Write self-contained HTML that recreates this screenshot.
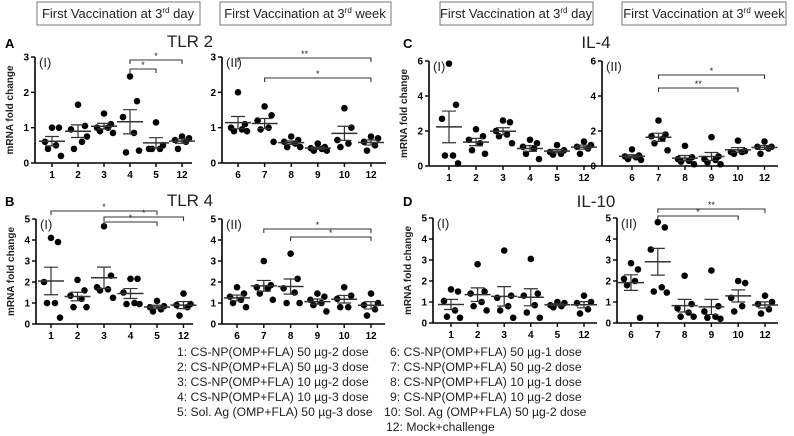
<!DOCTYPE html>
<html><head><meta charset="utf-8">
<style>
body{margin:0;background:#fff;}
svg{display:block;font-family:"Liberation Sans",Arial,sans-serif;}
</style></head>
<body>
<svg id="fig" width="794" height="436" viewBox="0 0 794 436" xmlns="http://www.w3.org/2000/svg">
<g font-size="13" fill="#222">
<rect x="37" y="2" width="163" height="23" fill="none" stroke="#777"/>
<text x="118" y="18" text-anchor="middle">First Vaccination at 3<tspan font-size="8" dy="-5">rd</tspan><tspan dy="5"> day</tspan></text>
<rect x="220" y="2" width="171" height="23" fill="none" stroke="#777"/>
<text x="305" y="18" text-anchor="middle">First Vaccination at 3<tspan font-size="8" dy="-5">rd</tspan><tspan dy="5"> week</tspan></text>
<rect x="440" y="2" width="153" height="23" fill="none" stroke="#777"/>
<text x="516" y="18" text-anchor="middle">First Vaccination at 3<tspan font-size="8" dy="-5">rd</tspan><tspan dy="5"> day</tspan></text>
<rect x="622" y="2" width="164" height="23" fill="none" stroke="#777"/>
<text x="704" y="18" text-anchor="middle">First Vaccination at 3<tspan font-size="8" dy="-5">rd</tspan><tspan dy="5"> week</tspan></text>
</g>
<g font-weight="bold" font-size="13" fill="#000">
<text x="5" y="48">A</text>
<text x="5" y="206">B</text>
<text x="403" y="48">C</text>
<text x="403" y="206">D</text>
</g>
<g font-size="17" fill="#222">
<text x="190" y="47" text-anchor="middle">TLR 2</text>
<text x="190" y="206" text-anchor="middle">TLR 4</text>
<text x="596" y="48" text-anchor="middle">IL-4</text>
<text x="596" y="207" text-anchor="middle">IL-10</text>
</g>
<g font-size="12.2" fill="#222">
<text x="177" y="356">1: CS-NP(OMP+FLA) 50 µg-2 dose</text>
<text x="177" y="371">2: CS-NP(OMP+FLA) 50 µg-3 dose</text>
<text x="177" y="386">3: CS-NP(OMP+FLA) 10 µg-2 dose</text>
<text x="177" y="401">4: CS-NP(OMP+FLA) 10 µg-3 dose</text>
<text x="177" y="416">5: Sol. Ag (OMP+FLA) 50 µg-3 dose</text>
<text x="390" y="356">6: CS-NP(OMP+FLA) 50 µg-1 dose</text>
<text x="390" y="371">7: CS-NP(OMP+FLA) 50 µg-2 dose</text>
<text x="390" y="386">8: CS-NP(OMP+FLA) 10 µg-1 dose</text>
<text x="390" y="401">9: CS-NP(OMP+FLA) 10 µg-2 dose</text>
<text x="384" y="416">10: Sol. Ag (OMP+FLA) 50 µg-2 dose</text>
<text x="386" y="431">12: Mock+challenge</text>
</g>
</svg>
<script>
// ---- data ----
const catsI = ["1","2","3","4","5","12"];
const catsII = ["6","7","8","9","10","12"];
const ticks3 = [0,1,2,3];
const ticks5 = [0,1,2,3,4,5];
const ticks6 = [0,2,4,6];
const tlr2I = [[1.0,1.0,0.6,0.5,0.4,0.2],[1.65,1.05,0.95,0.6,0.4,0.75],[1.4,1.1,1.0,1.0,0.9,0.85],[2.45,1.75,1.3,0.85,0.3,0.35],[1.15,0.5,0.4,0.4,0.4],[0.75,0.7,0.65,0.6,0.4]];
const tlr2II = [[2.0,1.1,1.0,0.95,0.9,0.9],[1.6,1.35,1.2,1.0,0.95,0.6],[0.75,0.65,0.6,0.55,0.45,0.45],[0.55,0.45,0.42,0.4,0.35,0.35],[1.55,1.0,0.65,0.55,0.45],[0.75,0.7,0.6,0.5,0.35]];
const tlr4I = [[4.1,3.9,2.0,1.0,1.0,0.3],[2.1,1.6,1.35,1.2,0.8,0.8],[4.65,2.3,1.75,1.65,1.6,1.25],[2.15,2.15,1.5,1.0,0.95,0.95],[1.1,0.85,0.8,0.7,0.6],[1.45,0.95,0.9,0.8,0.4]];
const tlr4II = [[1.75,1.45,1.3,1.15,1.0,0.8],[3.0,1.85,1.75,1.7,1.45,1.15],[3.35,2.15,1.7,1.5,1.0,1.0],[1.45,1.3,1.15,1.0,0.9,0.6],[1.75,1.35,1.2,0.8,0.8],[1.45,1.0,0.9,0.7,0.4]];
const il4I = [[5.85,3.5,2.7,0.6,0.6,0.15],[2.1,1.7,1.5,1.3,0.9,0.7],[2.6,2.5,2.0,1.8,1.7,1.3],[1.5,1.3,1.1,1.0,0.7,0.4],[1.2,0.9,0.8,0.7,0.65],[1.4,1.2,1.1,1.0,0.7]];
const il4II = [[0.95,0.6,0.55,0.5,0.4,0.35],[2.6,1.8,1.7,1.55,1.3,0.9],[1.15,0.5,0.4,0.3,0.25,0.1],[1.65,0.55,0.4,0.35,0.2,0.1],[1.45,0.85,0.8,0.8,0.7],[1.4,1.1,1.1,1.0,0.7]];
const il10I = [[1.6,1.5,1.05,0.6,0.3,0.25],[2.8,1.5,1.4,1.0,0.8,0.6],[3.45,1.3,1.2,0.8,0.6,0.25],[3.05,1.4,1.3,0.85,0.5,0.25],[1.0,0.95,0.85,0.8,0.75],[1.3,1.0,0.95,0.65,0.45]];
const il10II = [[2.85,2.55,2.1,2.0,1.8,0.25],[4.8,4.55,3.5,1.7,1.5,1.45],[2.25,0.9,0.7,0.5,0.3,0.3],[2.5,0.8,0.55,0.3,0.25,0.2],[2.0,1.9,1.2,0.8,0.55],[1.3,1.0,0.9,0.65,0.45]];
// significance: [fromIndex, toIndex, label]
const sigTlr2I = [[3,5,"*"],[3,4,"*"]];
const sigTlr2II = [[0,5,"**"],[1,5,"*"]];
const sigTlr4I = [[0,4,"*"],[2,5,"*"],[2,4,"*"]];
const sigTlr4II = [[1,5,"*"],[2,5,"*"]];
const sigIl4II = [[1,5,"*"],[1,4,"**"]];
const sigIl10II = [[1,5,"**"],[1,4,"*"]];

// ---- drawing ----
const NS="http://www.w3.org/2000/svg";
const svg=document.getElementById('fig');
function mk(tag,attrs,parent){const e=document.createElementNS(NS,tag);for(const k in attrs)e.setAttribute(k,attrs[k]);(parent||svg).appendChild(e);return e;}
const jitter=[0,7,-7,4,-4,9];
function panel(name,cfg,cats,ticks,data,sig,roman,showTitle){
  const g=mk('g',{});
  
  
  const ymax=ticks[ticks.length-1];
  const y=v=>cfg.y0-(v/ymax)*(cfg.y0-cfg.yTop);
  const x=i=>cfg.ax+cfg.first+i*cfg.step;
  const ya=mk('line',{x1:cfg.ax,y1:cfg.yTop,x2:cfg.ax,y2:cfg.y0,stroke:'#000','stroke-width':1.6},g);
  
  
  const xa=mk('line',{x1:cfg.ax,y1:cfg.y0,x2:cfg.xEnd,y2:cfg.y0,stroke:'#000','stroke-width':1.6},g);
  
  
  ticks.forEach(t=>{
    mk('line',{x1:cfg.ax-4,y1:y(t),x2:cfg.ax,y2:y(t),stroke:'#000','stroke-width':1.4},g);
    const tl=mk('text',{x:cfg.ax-6,y:y(t)+3.5,'text-anchor':'end','font-size':10,'font-weight':'bold'},g);
    tl.textContent=t;
    
    
  });
  cats.forEach((c,i)=>{
    mk('line',{x1:x(i),y1:cfg.y0,x2:x(i),y2:cfg.y0+4,stroke:'#000','stroke-width':1.4},g);
    const tl=mk('text',{x:x(i),y:cfg.y0+15,'text-anchor':'middle','font-size':10,'font-weight':'bold'},g);
    tl.textContent=c;
    
    
  });
  const rl=mk('text',{x:cfg.ax+4,y:cfg.yTop+10,'font-size':13,fill:'#222'},g);
  rl.textContent=roman;
  
  
  if(showTitle){
    const yt=mk('text',{transform:`translate(${cfg.ax-22},${(cfg.yTop+cfg.y0)/2}) rotate(-90)`,'text-anchor':'middle','font-size':10,'font-weight':'bold',fill:'#222'},g);
    yt.textContent='mRNA fold change';
    
    
  }
  data.forEach((vals,i)=>{
    const cx=x(i);
    const n=vals.length;
    const m=vals.reduce((a,b)=>a+b,0)/n;
    const sd=Math.sqrt(vals.reduce((a,b)=>a+(b-m)*(b-m),0)/(n-1));
    const se=sd/Math.sqrt(n);
    vals.forEach((v,j)=>{
      const d=mk('circle',{cx:cx+jitter[j%jitter.length],cy:y(v),r:3.3,fill:'#000'},g);
      
      
    });
    const ml=mk('line',{x1:cx-13,y1:y(m),x2:cx+13,y2:y(m),stroke:'#333','stroke-width':1.5},g);
    
    
    const eb=mk('path',{d:`M${cx},${y(m+se)}V${y(m-se)}M${cx-7},${y(m+se)}H${cx+7}M${cx-7},${y(m-se)}H${cx+7}`,stroke:'#333','stroke-width':1.2,fill:'none'},g);
    
    
  });
  (sig||[]).forEach((s,k)=>{
    const by=cfg.sigY[k];
    const x1=x(s[0]),x2=x(s[1]);
    const b=mk('path',{d:`M${x1},${by+4}V${by}H${x2}V${by+4}`,stroke:'#333','stroke-width':1.1,fill:'none'},g);
    
    
    const st=mk('text',{x:(x1+x2)/2,y:by-1,'text-anchor':'middle','font-size':9,fill:'#222'},g);
    st.textContent=s[2];
    
    
  });
}
panel('panel-tlr2-day',{ax:35,first:17,step:26,xEnd:192,yTop:57,y0:163,sigY:[60,69]},catsI,ticks3,tlr2I,sigTlr2I,'(I)',true);
panel('panel-tlr2-week',{ax:222,first:16,step:26.6,xEnd:386,yTop:57,y0:163,sigY:[58,78]},catsII,ticks3,tlr2II,sigTlr2II,'(II)',false);
panel('panel-tlr4-day',{ax:36,first:15,step:26.5,xEnd:193,yTop:219,y0:324,sigY:[211,217,222]},catsI,ticks5,tlr4I,sigTlr4I,'(I)',true);
panel('panel-tlr4-week',{ax:222,first:15,step:26.8,xEnd:385,yTop:219,y0:324,sigY:[229,237]},catsII,ticks5,tlr4II,sigTlr4II,'(II)',false);
panel('panel-il4-day',{ax:429,first:20,step:27,xEnd:598,yTop:61,y0:166,sigY:[]},catsI,ticks6,il4I,[],'(I)',true);
panel('panel-il4-week',{ax:602,first:30,step:26.5,xEnd:778,yTop:61,y0:166,sigY:[75,88]},catsII,ticks6,il4II,sigIl4II,'(II)',false);
panel('panel-il10-day',{ax:433,first:18,step:26.6,xEnd:597,yTop:218,y0:323,sigY:[]},catsI,ticks5,il10I,[],'(I)',true);
panel('panel-il10-week',{ax:617,first:14,step:26.8,xEnd:778,yTop:218,y0:323,sigY:[209,216]},catsII,ticks5,il10II,sigIl10II,'(II)',false);
</script>
</body></html>
